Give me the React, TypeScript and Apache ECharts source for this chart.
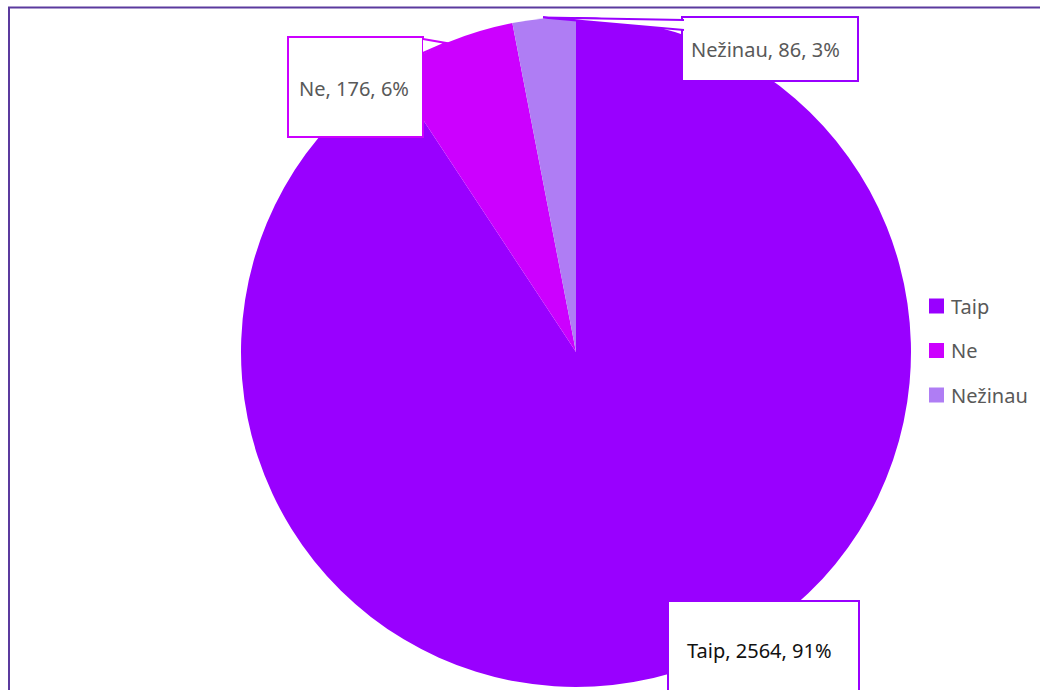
import React, { useEffect, useRef } from "react";
import * as echarts from "echarts";

const categories = ["Taip", "Ne", "Nežinau"];
const values = [2564, 176, 86];
const colors = ["#9900FF", "#CC00FF", "#AF7DF4"];
const labelBorders = ["#9900FF", "#CC00FF", "#9900FF"];
const labelTextColors = ["#111111", "#595959", "#595959"];

// label box geometry (layout only)
const labelBoxes = [
  { x: 669, y: 602, width: 153, padding: [38, 18, 38, 18] },
  { x: 289, y: 38, width: 113, padding: [40, 10, 38, 10] },
  { x: 683, y: 18, width: 158, padding: [21, 8, 21, 8] },
];

// callout pointer shapes (decoration of the label boxes)
const pointers = [
  { color: "#CC00FF", pts: [[423, 39], [446, 43], [423, 53]] },
  { color: "#9900FF", pts: [[684, 20], [543, 17.5], [684, 30]] },
];

const FONT = "'Noto Sans', 'Open Sans', sans-serif";

export default function App() {
  const ref = useRef<HTMLDivElement>(null);
  useEffect(() => {
    if (!ref.current) return;
    const chart = echarts.init(ref.current, null, { renderer: "svg" });
    const data = categories.map((name, i) => ({
      name,
      value: values[i],
      itemStyle: { color: colors[i] },
      label: {
        color: labelTextColors[i],
        borderColor: labelBorders[i],
        width: labelBoxes[i].width,
        padding: labelBoxes[i].padding,
      },
    }));
    const pointerGraphics: any[] = [];
    pointers.forEach((p) => {
      pointerGraphics.push({
        type: "polygon",
        z: 100,
        silent: true,
        shape: { points: p.pts },
        style: { fill: "#ffffff", stroke: "none" },
      });
      pointerGraphics.push({
        type: "polyline",
        z: 101,
        silent: true,
        shape: { points: p.pts },
        style: { stroke: p.color, lineWidth: 2, fill: "none" },
      });
    });
    chart.setOption({
      animation: false,
      backgroundColor: "#ffffff",
      legend: {
        orient: "vertical",
        left: 929,
        top: 295,
        padding: 0,
        itemWidth: 15,
        itemHeight: 15,
        itemGap: 22.5,
        icon: "rect",
        data: categories,
        textStyle: { color: "#595959", fontSize: 20, fontFamily: FONT, lineHeight: 22, padding: [0, 0, 0, 2] },
      },
      graphic: [
        {
          type: "polyline",
          shape: { points: [[9, 690], [9, 7.5], [1040, 7.5]] },
          style: { stroke: "#5B3A9E", lineWidth: 2, fill: "none" },
          silent: true,
        },
        ...pointerGraphics,
      ],
      series: [
        {
          type: "pie",
          center: [576, 352],
          radius: 335,
          startAngle: 90,
          clockwise: true,
          percentPrecision: 0,
          itemStyle: { borderWidth: 0 },
          label: {
            show: true,
            position: "outside",
            formatter: "{b}, {c}, {d}%",
            fontSize: 20,
            fontFamily: FONT,
            lineHeight: 20,
            height: 20,
            align: "center",
            backgroundColor: "#ffffff",
            borderWidth: 2,
          },
          labelLine: { show: false },
          labelLayout: (params: any) => {
            const b = labelBoxes[params.dataIndex];
            return { x: b.x, y: b.y, align: "left", verticalAlign: "top" };
          },
          data,
        },
      ],
    });
    return () => chart.dispose();
  }, []);
  return (
    <div
      ref={ref}
      style={{ position: "fixed", left: 0, top: 0, width: 1040, height: 690 }}
    />
  );
}
